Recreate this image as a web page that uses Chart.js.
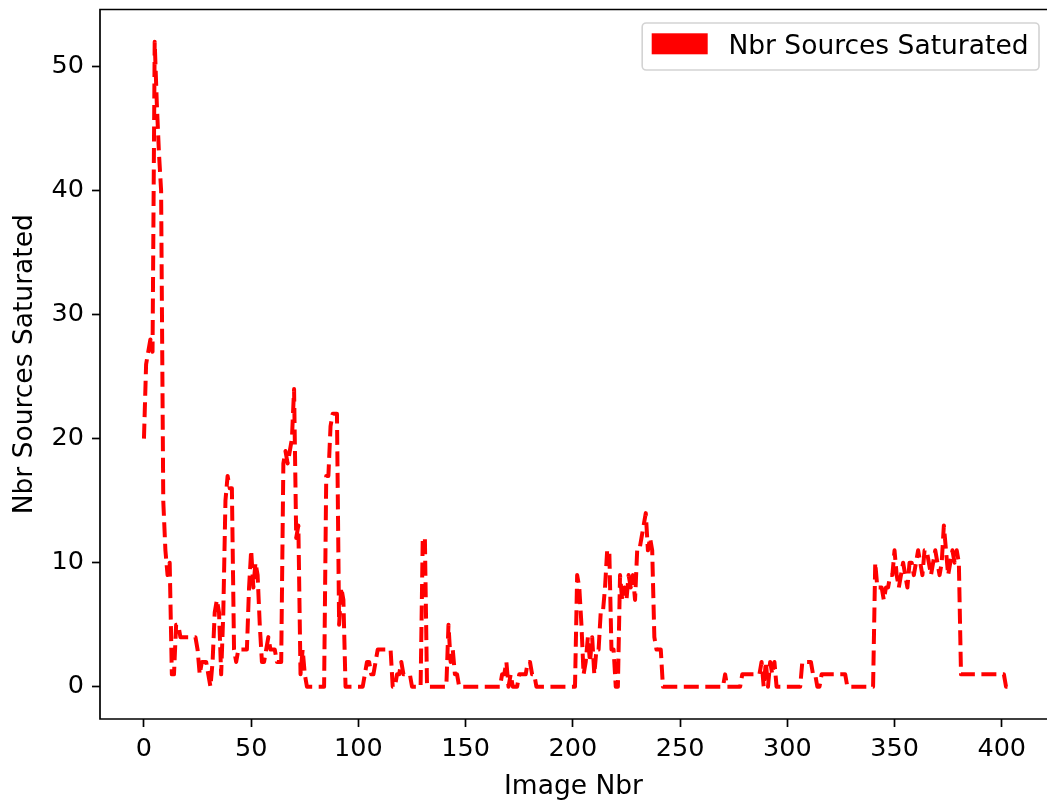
<!DOCTYPE html>
<html>
<head>
<meta charset="utf-8">
<script src="https://cdn.jsdelivr.net/npm/chart.js@4.4.0/dist/chart.umd.min.js"></script>
<style>
  html, body { margin: 0; padding: 0; background: #fff; overflow: hidden; }
  #wrap { width: 1047px; height: 802px; }
</style>
</head>
<body>
<div id="wrap"><canvas id="chart-sat" width="1047" height="802"></canvas></div>
<script>
var seriesLabel = 'Nbr Sources Saturated';
var xTitle = 'Image Nbr';
var yTitle = 'Nbr Sources Saturated';
var xTicks = [0, 50, 100, 150, 200, 250, 300, 350, 400];
var yTicks = [0, 10, 20, 30, 40, 50];

// one value per image (image 0 .. 403)
var saturated = [
    20, 26, 27, 28, 27, 52, 47, 43, 40, 15, 11, 9, 10, 1, 1, 5, 5, 4, 4, 4,
    4, 4, 4, 4, 4, 3, 1, 2, 2, 2, 1, 0, 2, 6, 7, 6, 1, 6, 15, 17,
    16, 16, 3, 2, 3, 3, 3, 3, 3, 8, 11, 8, 10, 9, 5, 2, 2, 3, 4, 3,
    3, 3, 2, 2, 2, 18, 19, 18, 19, 20, 24, 12, 13, 1, 3, 1, 0, 0, 0, 0,
    0, 0, 0, 0, 0, 17, 17, 21, 22, 22, 22, 5, 8, 7, 0, 0, 0, 0, 0, 0,
    0, 0, 0, 1, 2, 2, 1, 1, 2, 3, 3, 3, 3, 3, 3, 3, 0, 0, 1, 1,
    2, 1, 1, 1, 1, 0, 0, 0, 0, 0, 12, 12, 0, 0, 0, 0, 0, 0, 0, 0,
    0, 0, 5, 2, 3, 1, 1, 0, 0, 0, 0, 0, 0, 0, 0, 0, 0, 0, 0, 0,
    0, 0, 0, 0, 0, 0, 0, 1, 1, 2, 0, 1, 0, 0, 0, 1, 1, 1, 1, 2,
    2, 1, 1, 0, 0, 0, 0, 0, 0, 0, 0, 0, 0, 0, 0, 0, 0, 0, 0, 0,
    0, 0, 9, 8, 5, 1, 2, 4, 2, 4, 1, 3, 3, 6, 6, 8, 11, 11, 3, 3,
    0, 0, 9, 7, 8, 7, 9, 8, 9, 7, 11, 11, 12, 13, 14, 11, 12, 11, 4, 3,
    3, 3, 0, 0, 0, 0, 0, 0, 0, 0, 0, 0, 0, 0, 0, 0, 0, 0, 0, 0,
    0, 0, 0, 0, 0, 0, 0, 0, 0, 0, 0, 1, 0, 0, 0, 0, 0, 0, 0, 1,
    1, 1, 1, 1, 1, 1, 1, 1, 2, 0, 2, 0, 2, 1, 2, 0, 0, 0, 0, 0,
    0, 0, 0, 0, 0, 0, 0, 2, 2, 2, 2, 2, 1, 1, 0, 0, 1, 1, 1, 1,
    1, 1, 1, 1, 1, 1, 1, 1, 0, 0, 0, 0, 0, 0, 0, 0, 0, 0, 0, 0,
    0, 10, 8, 8, 8, 7, 8, 8, 9, 9, 11, 9, 8, 9, 10, 9, 8, 10, 10, 9,
    10, 11, 10, 9, 11, 11, 10, 9, 10, 11, 10, 9, 10, 13, 11, 9, 10, 11, 10, 11,
    10, 1, 1, 1, 1, 1, 1, 1, 1, 1, 1, 1, 1, 1, 1, 1, 1, 1, 1, 1,
    1, 1, 0, 0
];
var imageNbr = saturated.map(function (v, i) { return i; });

var tickFont = { family: 'DejaVu Sans', size: 25.5 };
var titleFont = { family: 'DejaVu Sans', size: 26.5 };

// left, top and bottom spines (the right one falls just outside the figure)
var frame = {
    id: 'frame',
    afterDatasetsDraw: function (chart) {
        var ctx = chart.ctx, a = chart.chartArea;
        ctx.save();
        ctx.strokeStyle = '#000';
        ctx.lineWidth = 1.7;
        ctx.beginPath();
        ctx.moveTo(a.right + 2, a.top);
        ctx.lineTo(a.left, a.top);
        ctx.lineTo(a.left, a.bottom);
        ctx.lineTo(a.right + 2, a.bottom);
        ctx.stroke();
        ctx.restore();
    }
};

// matplotlib style legend box in the upper right corner
var legendBox = {
    id: 'legendBox',
    afterDraw: function (chart) {
        var ctx = chart.ctx, a = chart.chartArea;
        var ds = chart.data.datasets[0];
        ctx.save();
        ctx.font = '26.5px "DejaVu Sans"';
        var tw = ctx.measureText(ds.label).width;
        var w = 9.5 + 56 + 20.7 + tw + 10.5;
        var h = 47;
        var x = 1039 - w, y = a.top + 13.5;
        ctx.beginPath();
        ctx.roundRect(x, y, w, h, 4);
        ctx.fillStyle = 'rgba(255,255,255,0.8)';
        ctx.fill();
        ctx.strokeStyle = '#d3d3d3';
        ctx.lineWidth = 1.6;
        ctx.stroke();
        ctx.fillStyle = ds.borderColor;
        ctx.fillRect(x + 9.5, y + 10.3, 56, 21);
        ctx.fillStyle = '#000';
        ctx.textBaseline = 'alphabetic';
        ctx.fillText(ds.label, x + 9.5 + 56 + 20.7, y + 31);
        ctx.restore();
    }
};

function noEdgePadding(scale) {
    scale.paddingTop = 0;
    scale.paddingBottom = 0;
    scale.paddingLeft = 0;
    scale.paddingRight = 0;
}

var ctx1 = document.getElementById('chart-sat').getContext('2d');

new Chart(ctx1, {
    type: 'line',
    data: {
        datasets: [{
            label: seriesLabel,
            data: imageNbr.map(function (x, i) { return { x: x, y: saturated[i] }; }),
            borderColor: '#ff0000',
            backgroundColor: '#ff0000',
            borderWidth: 4,
            borderDash: [15, 6.5],
            borderCapStyle: 'butt',
            borderJoinStyle: 'round',
            pointRadius: 0,
            tension: 0,
            fill: false
        }]
    },
    options: {
        responsive: false,
        animation: false,
        devicePixelRatio: 1,
        layout: { padding: { left: 0, right: 0, top: 9.5, bottom: 0 } },
        plugins: {
            legend: { display: false },
            tooltip: { enabled: false }
        },
        scales: {
            x: {
                type: 'linear',
                min: -20.5,
                max: 421.1,
                afterBuildTicks: function (scale) {
                    scale.ticks = xTicks.map(function (v) { return { value: v }; });
                },
                afterFit: function (scale) { scale.height = 83; noEdgePadding(scale); },
                ticks: { autoSkip: false, maxRotation: 0, padding: 7, color: '#000', font: tickFont },
                grid: { drawOnChartArea: false, drawTicks: true, tickLength: 8, tickWidth: 1.7, tickColor: '#000' },
                border: { display: false },
                title: { display: true, text: xTitle, color: '#000', font: titleFont, padding: { top: 0, bottom: -1 } }
            },
            y: {
                type: 'linear',
                min: -2.6,
                max: 54.6,
                afterBuildTicks: function (scale) {
                    scale.ticks = yTicks.map(function (v) { return { value: v }; });
                },
                afterFit: function (scale) { scale.width = 100; noEdgePadding(scale); },
                ticks: { autoSkip: false, padding: 8, color: '#000', font: tickFont },
                grid: { drawOnChartArea: false, drawTicks: true, tickLength: 8, tickWidth: 1.7, tickColor: '#000' },
                border: { display: false },
                title: { display: true, text: yTitle, color: '#000', font: titleFont, padding: { top: 9, bottom: 0 } }
            }
        }
    },
    plugins: [frame, legendBox]
});
</script>
</body>
</html>
